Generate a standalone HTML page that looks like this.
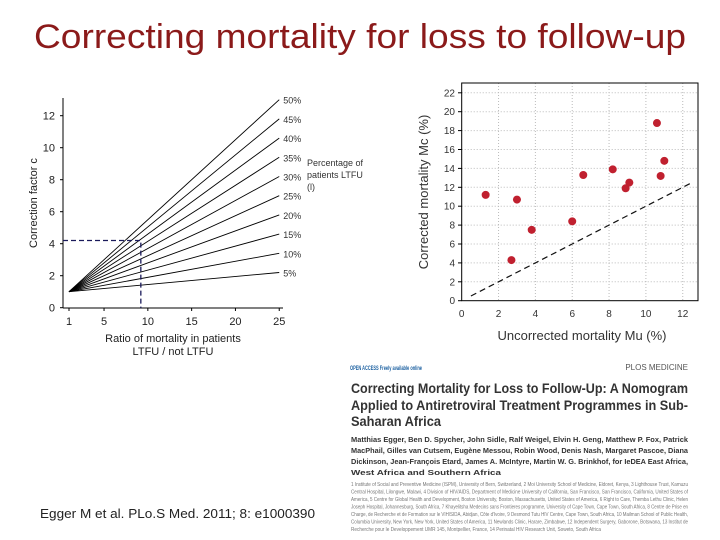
<!DOCTYPE html>
<html><head><meta charset="utf-8"><style>
body{margin:0;background:#fff}
svg{display:block;font-family:"Liberation Sans",sans-serif}
</style></head><body>
<svg id="s" width="720" height="540" viewBox="0 0 720 540">
<text x="360" y="48" text-anchor="middle" font-size="34" fill="#8b1a1a" textLength="652" lengthAdjust="spacingAndGlyphs">Correcting mortality for loss to follow-up</text>
<g id="left"></g>
<g id="right"></g>
<g>
<text x="350" y="370" font-size="6" fill="#1a5fa0" font-weight="bold" textLength="72" lengthAdjust="spacingAndGlyphs">OPEN ACCESS Freely available online</text>
<text x="688" y="370" font-size="8" fill="#555" text-anchor="end">PLOS MEDICINE</text>
<g font-weight="bold" font-size="14" fill="#333">
<text x="351" y="393" textLength="337" lengthAdjust="spacingAndGlyphs">Correcting Mortality for Loss to Follow-Up: A Nomogram</text>
<text x="351" y="410" textLength="337" lengthAdjust="spacingAndGlyphs">Applied to Antiretroviral Treatment Programmes in Sub-</text>
<text x="351" y="426" textLength="90" lengthAdjust="spacingAndGlyphs">Saharan Africa</text>
</g>
<g font-weight="bold" font-size="7.5" fill="#333">
<text x="351" y="442" textLength="337" lengthAdjust="spacingAndGlyphs">Matthias Egger, Ben D. Spycher, John Sidle, Ralf Weigel, Elvin H. Geng, Matthew P. Fox, Patrick</text>
<text x="351" y="453" textLength="337" lengthAdjust="spacingAndGlyphs">MacPhail, Gilles van Cutsem, Eugène Messou, Robin Wood, Denis Nash, Margaret Pascoe, Diana</text>
<text x="351" y="464" textLength="337" lengthAdjust="spacingAndGlyphs">Dickinson, Jean-François Etard, James A. McIntyre, Martin W. G. Brinkhof, for IeDEA East Africa,</text>
<text x="351" y="475" textLength="150" lengthAdjust="spacingAndGlyphs">West Africa and Southern Africa</text>
</g>
<g font-size="5" fill="#777">
<text x="351" y="486" textLength="337" lengthAdjust="spacingAndGlyphs">1 Institute of Social and Preventive Medicine (ISPM), University of Bern, Switzerland, 2 Moi University School of Medicine, Eldoret, Kenya, 3 Lighthouse Trust, Kamuzu</text>
<text x="351" y="493.5" textLength="337" lengthAdjust="spacingAndGlyphs">Central Hospital, Lilongwe, Malawi, 4 Division of HIV/AIDS, Department of Medicine University of California, San Francisco, San Francisco, California, United States of</text>
<text x="351" y="501" textLength="337" lengthAdjust="spacingAndGlyphs">America, 5 Centre for Global Health and Development, Boston University, Boston, Massachusetts, United States of America, 6 Right to Care, Themba Lethu Clinic, Helen</text>
<text x="351" y="508.5" textLength="337" lengthAdjust="spacingAndGlyphs">Joseph Hospital, Johannesburg, South Africa, 7 Khayelitsha Medecins sans Frontieres programme, University of Cape Town, Cape Town, South Africa, 8 Centre de Prise en</text>
<text x="351" y="516" textLength="337" lengthAdjust="spacingAndGlyphs">Charge, de Recherche et de Formation sur le VIH/SIDA, Abidjan, Côte d'Ivoire, 9 Desmond Tutu HIV Centre, Cape Town, South Africa, 10 Mailman School of Public Health,</text>
<text x="351" y="523.5" textLength="337" lengthAdjust="spacingAndGlyphs">Columbia University, New York, New York, United States of America, 11 Newlands Clinic, Harare, Zimbabwe, 12 Independent Surgery, Gaborone, Botswana, 13 Institut de</text>
<text x="351" y="531" textLength="250" lengthAdjust="spacingAndGlyphs">Recherche pour le Developpement UMR 145, Montpellier, France, 14 Perinatal HIV Research Unit, Soweto, South Africa</text>
</g>
</g>
<text x="40" y="518" font-size="12.5" fill="#222" textLength="275" lengthAdjust="spacingAndGlyphs">Egger M et al. PLo.S Med. 2011; 8: e1000390</text>
</svg>
<script>
// Left nomogram data
const ltfuPercents=[5,10,15,20,25,30,35,40,45,50];
const xTicksL=[1,5,10,15,20,25];
const yTicksL=[0,2,4,6,8,10,12];
const exampleRatio=[9.2];
const exampleFactor=[4.2];
// Right scatter data
const uncorrected=[1.3,2.7,3.0,3.8,6.0,6.6,8.2,8.9,9.1,10.6,10.8,11.0];
const corrected=[11.2,4.3,10.7,7.5,8.4,13.3,13.9,11.9,12.5,18.8,13.2,14.8];
const xTicksR=[0,2,4,6,8,10,12];
const yTicksR=[0,2,4,6,8,10,12,14,16,18,20,22];
const refLine=[0.5,12.5];

const NS="http://www.w3.org/2000/svg";
function mk(p,t,a,txt){const e=document.createElementNS(NS,t);for(const k in a)e.setAttribute(k,a[k]);if(txt!==undefined)e.textContent=txt;p.appendChild(e);return e;}

// LEFT
const L=document.getElementById('left');
const lx=v=>69+(v-1)*8.76, ly=v=>307.7-v*16;
let e;
e=mk(L,'line',{x1:63,y1:98,x2:63,y2:308,stroke:'#000','stroke-width':1});

e=mk(L,'line',{x1:63,y1:308,x2:283,y2:308,stroke:'#000','stroke-width':1});

yTicksL.forEach(v=>{mk(L,'line',{x1:60,y1:ly(v),x2:63,y2:ly(v),stroke:'#000'});
 e=mk(L,'text',{x:55,y:ly(v)+4,'text-anchor':'end','font-size':11,fill:'#222'},v);
 });
xTicksL.forEach(v=>{mk(L,'line',{x1:lx(v),y1:308,x2:lx(v),y2:311,stroke:'#000'});
 e=mk(L,'text',{x:lx(v),y:325,'text-anchor':'middle','font-size':11,fill:'#222'},v);
 });
ltfuPercents.forEach(p=>{const f=R=>1+p/100*(R-1);
 e=mk(L,'line',{x1:lx(1),y1:ly(1),x2:lx(25),y2:ly(f(25)),stroke:'#000','stroke-width':0.9});
 
 e=mk(L,'text',{x:lx(25)+4,y:ly(f(25))+4,'font-size':9,fill:'#333'},p+'%');
 });
e=mk(L,'polyline',{points:`63,${ly(exampleFactor[0])} ${lx(exampleRatio[0])},${ly(exampleFactor[0])} ${lx(exampleRatio[0])},308`,fill:'none',stroke:'#1a1a5a','stroke-width':1.3,'stroke-dasharray':'5,3'});

e=mk(L,'text',{x:37,y:203,'text-anchor':'middle','font-size':11,fill:'#222',transform:'rotate(-90 37 203)'},'Correction factor c');

e=mk(L,'text',{x:173,y:342,'text-anchor':'middle','font-size':11,fill:'#222'},'Ratio of mortality in patients');

mk(L,'text',{x:173,y:355,'text-anchor':'middle','font-size':11,fill:'#222'},'LTFU / not LTFU');
e=mk(L,'text',{x:307,y:166,'font-size':9,fill:'#333'},'Percentage of');

mk(L,'text',{x:307,y:178,'font-size':9,fill:'#333'},'patients LTFU');
mk(L,'text',{x:307,y:190,'font-size':9,fill:'#333'},'(l)');

// RIGHT
const Rg=document.getElementById('right');
const rx=v=>461.7+v*18.42, ry=v=>300.7-v*9.45;
xTicksR.forEach(v=>{if(v>0)mk(Rg,'line',{x1:rx(v),y1:83,x2:rx(v),y2:300.7,stroke:'#bbb','stroke-dasharray':'1,2'});
 e=mk(Rg,'text',{x:rx(v),y:317,'text-anchor':'middle','font-size':10,fill:'#333'},v);
 });
yTicksR.forEach(v=>{if(v>0)mk(Rg,'line',{x1:461.7,y1:ry(v),x2:698,y2:ry(v),stroke:'#bbb','stroke-dasharray':'1,2'});
 mk(Rg,'line',{x1:458,y1:ry(v),x2:461.7,y2:ry(v),stroke:'#000'});
 e=mk(Rg,'text',{x:455,y:ry(v)+3.5,'text-anchor':'end','font-size':10,fill:'#333'},v);
 });
e=mk(Rg,'rect',{x:461.7,y:83,width:236.3,height:217.7,fill:'none',stroke:'#000','stroke-width':1});

e=mk(Rg,'line',{x1:rx(refLine[0]),y1:ry(refLine[0]),x2:rx(refLine[1]),y2:ry(refLine[1]),stroke:'#111','stroke-width':1.2,'stroke-dasharray':'6,4'});

uncorrected.forEach((u,i)=>{e=mk(Rg,'circle',{cx:rx(u),cy:ry(corrected[i]),r:4,fill:'#c0202f'});
 });
e=mk(Rg,'text',{x:428,y:192,'text-anchor':'middle','font-size':13,fill:'#333',transform:'rotate(-90 428 192)'},'Corrected mortality Mc (%)');

e=mk(Rg,'text',{x:582,y:340,'text-anchor':'middle','font-size':13,fill:'#333'},'Uncorrected mortality Mu (%)');

</script>
</body></html>
